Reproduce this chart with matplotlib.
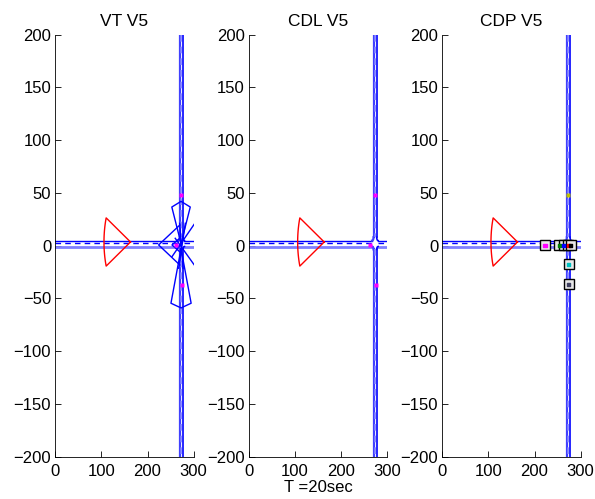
import numpy as np
import matplotlib
matplotlib.use("Agg")
import matplotlib.pyplot as plt

plt.rcParams['font.family'] = ['Liberation Sans', 'DejaVu Sans']
plt.rcParams['font.size'] = 12

# panel titles and label
titles = ["VT V5", "CDL V5", "CDP V5"]
xlabel_text = "T =20sec"

# road geometry (data units)
h_road_y = [-0.8, 2.3, 4.8]          # light edge, dashed centre, dark edge
v_road_x = [270.0, 273.5, 277.0]      # light edge, dashed centre, dark edge
gap_top, gap_bot = 8.0, -3.5          # vertical road opening at the crossing

# ego vehicle sensor cone (red): centre x, centre y, radius, heading deg, half angle deg
ego_cone = [163.0, 3.5, 57.5, 180.0, 23.4]

# VT panel: other vehicles' cones (blue)
vt_cones_x = [272.6, 272.6]
vt_cones_y = [2.0, -3.0]
vt_cones_r = [40.0, 56.0]
vt_cones_head = [90.0, 270.0]
vt_cones_half = [30.0, 23.0]

# VT panel: extra blue polylines
vt_lines = [
    ([270.0, 224.0, 270.0], [19.6, 0.7, -18.3]),
    ([269.6, 253.0, 269.6], [7.0, 0.7, -5.7]),
    ([253.0, 310.0], [-10.4, 26.0]),
    ([260.0, 310.0], [7.0, -23.6]),
    ([269.6, 276.9], [21.2, -21.4]),
    ([281.9, 267.4], [21.2, -21.4]),
]

# magenta detections in VT and CDL panels
mag_x = [272.5, 274.5, 261.8]
mag_y = [47.8, -37.5, 0.4]

# CDP panel: tracked objects (square) and their colour dots
cdp_x = [223.0, 254.0, 263.0, 273.0, 278.0, 274.0, 274.0]
cdp_y = [0.4, 0.4, 0.4, 0.4, 0.4, -17.6, -36.6]
cdp_c = ['#ff00ff', '#008000', '#0000ff', '#ff0000', '#000000', '#00c0c0', '#404060']
yellow_x, yellow_y = [272.0], [48.0]

blue = '#0000ff'
light_blue = '#7f7fff'


def sector(cx, cy, r, head, half, n):
    a = np.radians(np.linspace(head - half, head + half, n))
    xs = np.concatenate([[cx], cx + r * np.cos(a), [cx]])
    ys = np.concatenate([[cy], cy + r * np.sin(a), [cy]])
    return xs, ys


def draw_road(ax):
    xl, xc, xr = v_road_x
    # horizontal road, broken at the crossing
    for y, col, lw, ls in zip(h_road_y, [light_blue, blue, blue], [2.0, 1.0, 1.0],
                              ['-', (0, (4, 3)), '-']):
        ax.plot([0, xl - 3], [y, y], color=col, lw=lw, ls=ls)
        ax.plot([xr + 3, 300], [y, y], color=col, lw=lw, ls=ls)
    # vertical road with rounded corners
    t = np.linspace(0, np.pi / 2, 12)
    for x, col, lw, sgn in [(xl, '#4040ff', 1.6, -1), (xr, blue, 1.2, 1)]:
        ax.plot([x, x], [200, gap_top], color=col, lw=lw)
        ax.plot([x, x], [gap_bot, -200], color=col, lw=lw)
        ax.plot(x + sgn * 3 * (1 - np.cos(t)), gap_top - (gap_top - h_road_y[2]) * np.sin(t),
                color=col, lw=lw)
        ax.plot(x + sgn * 3 * (1 - np.cos(t)), gap_bot + (h_road_y[0] - gap_bot) * np.sin(t),
                color=col, lw=lw)
    ax.plot([xc, xc], [200, gap_top], color=light_blue, lw=1.2, ls=(0, (4, 3)))
    ax.plot([xc, xc], [gap_bot, -200], color=light_blue, lw=1.2, ls=(0, (4, 3)))


fig = plt.figure(figsize=(5.95, 4.99), dpi=100)
lefts = [0.093, 0.4185, 0.7434]
axes = [fig.add_axes([l, 0.0848, 0.2325, 0.8457]) for l in lefts]

for i, ax in enumerate(axes):
    draw_road(ax)
    ex, ey = sector(*ego_cone, 30)
    ax.plot(ex, ey, color='r', lw=1.0)

    if i == 0:
        for cx, cy, r, h, hf in zip(vt_cones_x, vt_cones_y, vt_cones_r, vt_cones_head, vt_cones_half):
            sx, sy = sector(cx, cy, r, h, hf, 3)
            ax.plot(sx, sy, color=blue, lw=1.0)
        for lx, ly in vt_lines:
            ax.plot(lx, ly, color=blue, lw=1.0)
    if i in (0, 1):
        ax.plot(mag_x, mag_y, 's', color='#ff00ff', ms=2.5, mec='none')
    if i == 2:
        ax.plot(cdp_x, cdp_y, 's', ms=6.5, mfc='#e8e8e8', mec='k', mew=1.0)
        ax.scatter(cdp_x, cdp_y, s=6, c=cdp_c, marker='s', zorder=5)
        ax.plot(yellow_x, yellow_y, 's', color='#c0c000', ms=2.5, mec='none')

    ax.set_xlim(0, 300)
    ax.set_ylim(-200, 200)
    ax.set_xticks([0, 100, 200, 300])
    ax.set_yticks(np.arange(-200, 201, 50))
    ax.spines['top'].set_visible(False)
    ax.spines['right'].set_visible(False)
    ax.tick_params(direction='in', length=4, width=0.6, labelsize=12)
    ax.tick_params(axis='x', pad=5)
    ax.tick_params(axis='y', pad=3)
    for s in ('left', 'bottom'):
        ax.spines[s].set_linewidth(0.6)
    ax.set_title(titles[i], fontsize=12.5, pad=6)

axes[1].set_xlabel(xlabel_text, fontsize=12, labelpad=1)

fig.savefig("out.png", dpi=100)
